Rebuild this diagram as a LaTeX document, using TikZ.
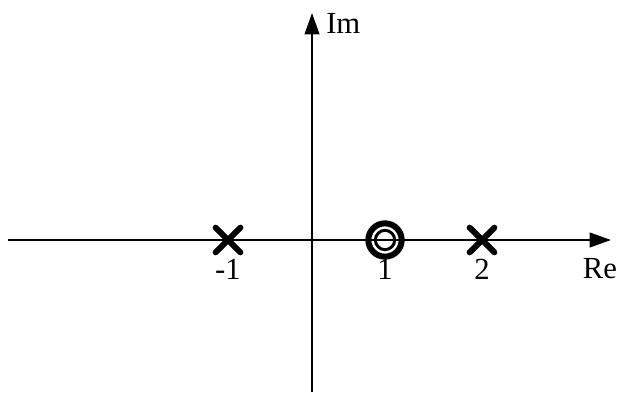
\documentclass[tikz,border=0pt]{standalone}
\usepackage{fontspec}
\setmainfont{Liberation Serif}
\usetikzlibrary{
    positioning,
    arrows.meta,
    shapes.misc,
}
\tikzset{
    % Axis style
    axis/.style={-{Triangle[length=16pt, width=11pt]}, line width=1.5pt},
    % Pole and zero markers
    pole/.style={cross out, draw, line width=4.5pt, line cap=round,
                 minimum size=14pt, inner sep=0pt},
    zero outer/.style={circle, draw, line width=4.5pt, minimum size=25pt, inner sep=0pt},
    zero inner/.style={circle, draw, line width=2.2pt, minimum size=14.5pt, inner sep=0pt},
    % Labels
    lbl/.style={font=\fontsize{23}{27}\selectfont, inner sep=0pt},
}

\begin{document}
\begin{tikzpicture}[x=0.75pt, y=-0.75pt]
    \useasboundingbox (0, 0) rectangle (627, 392);

    % Axes
    \coordinate (re start) at (8, 240);
    \coordinate (re end) at (611, 240);
    \coordinate (im start) at (312, 392);
    \coordinate (im end) at (312, 13);
    \draw[axis] (re start) -- (re end);
    \draw[axis] (im start) -- (im end);
    \node[lbl, anchor=west] (im) at (326, 23) {Im};
    \node[lbl] (re) at (600, 269) {Re};

    % Poles
    \node[pole] (p1) at (228, 240) {};
    \node[pole] (p2) at (482, 240) {};

    % Double zero
    \node[zero outer] (z) at (385, 240) {};
    \node[zero inner] (zi) at (z) {};

    % Tick labels
    \node[lbl] (l1) at (228, 269) {-1};
    \node[lbl] (l2) at (385, 269) {1};
    \node[lbl] (l3) at (482, 269) {2};
\end{tikzpicture}
\end{document}
